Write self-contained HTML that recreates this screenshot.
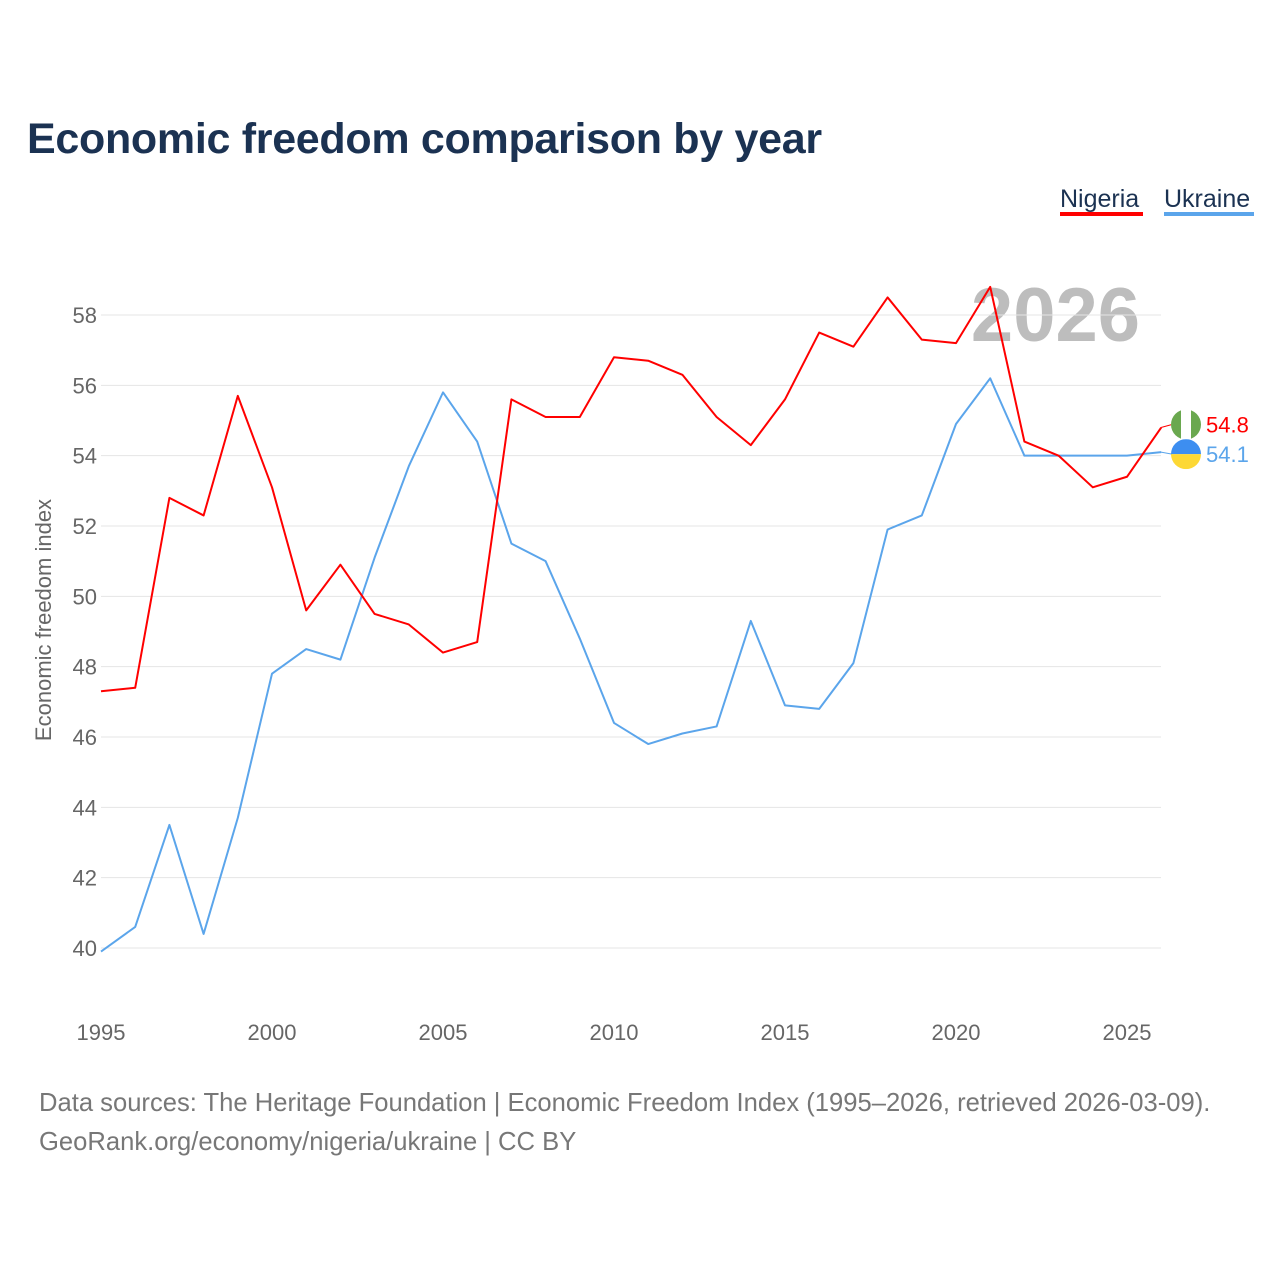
<!DOCTYPE html>
<html><head><meta charset="utf-8"><style>
body{margin:0;background:#fff;font-family:"Liberation Sans",sans-serif}
svg text{font-family:"Liberation Sans",sans-serif}
</style></head><body>
<svg id="chart" width="1280" height="1280" viewBox="0 0 1280 1280">
<text x="27" y="153" font-size="43" letter-spacing="-0.3" font-weight="bold" fill="#1b3252">Economic freedom comparison by year</text>
<g><text x="1060" y="207" font-size="25" fill="#1b3252">Nigeria</text><rect x="1060" y="212" width="83" height="4" fill="#f00"/></g>
<g><text x="1164" y="207" font-size="25" fill="#1b3252">Ukraine</text><rect x="1164" y="212" width="90" height="4" fill="#5ba5eb"/></g>
<text x="1140" y="341" text-anchor="end" font-size="76" font-weight="bold" fill="#bdbdbd">2026</text>
<g id="grid"></g><g id="series"></g>
<text transform="translate(51,620) rotate(-90)" text-anchor="middle" font-size="22" fill="#666">Economic freedom index</text>
<text x="39" y="1111" font-size="25.6" fill="#777">Data sources: The Heritage Foundation | Economic Freedom Index (1995–2026, retrieved 2026-03-09).</text>
<text x="39" y="1150" font-size="25.6" fill="#777">GeoRank.org/economy/nigeria/ukraine | CC BY</text>
</svg>
<script>
const years=[1995,1996,1997,1998,1999,2000,2001,2002,2003,2004,2005,2006,2007,2008,2009,2010,2011,2012,2013,2014,2015,2016,2017,2018,2019,2020,2021,2022,2023,2024,2025,2026];
const nigeria=[47.3,47.4,52.8,52.3,55.7,53.1,49.6,50.9,49.5,49.2,48.4,48.7,55.6,55.1,55.1,56.8,56.7,56.3,55.1,54.3,55.6,57.5,57.1,58.5,57.3,57.2,58.8,54.4,54.0,53.1,53.4,54.8];
const ukraine=[39.9,40.6,43.5,40.4,43.7,47.8,48.5,48.2,51.1,53.7,55.8,54.4,51.5,51.0,48.8,46.4,45.8,46.1,46.3,49.3,46.9,46.8,48.1,51.9,52.3,54.9,56.2,54.0,54.0,54.0,54.0,54.1];
const yTicks=[40,42,44,46,48,50,52,54,56,58];
const xTicks=[1995,2000,2005,2010,2015,2020,2025];
const NS="http://www.w3.org/2000/svg";
const X=v=>101+(v-1995)*(1127-101)/30;
const Y=v=>948-(v-40)*(948-315)/18;
function mk(t,a,p){const e=document.createElementNS(NS,t);for(const k in a)e.setAttribute(k,a[k]);p.appendChild(e);return e;}
const g=document.getElementById('grid'),s=document.getElementById('series');
yTicks.forEach(v=>{
 const l=mk('line',{x1:101,x2:1161,y1:Y(v),y2:Y(v),stroke:'#e5e5e5','stroke-width':1},g);
 
 
 const t=mk('text',{x:97,y:Y(v)+8,'text-anchor':'end','font-size':22,fill:'#666'},g);t.textContent=v;
 
 
});
xTicks.forEach(v=>{
 const t=mk('text',{x:X(v),y:1040,'text-anchor':'middle','font-size':22,fill:'#666'},g);t.textContent=v;
 
 
});
function line(d,c,n){
 const p=mk('polyline',{points:d.map((v,i)=>X(years[i])+','+Y(v)).join(' '),fill:'none',stroke:c,'stroke-width':2,'stroke-linejoin':'round'},s);
 
 
}
line(ukraine,'#5ba5eb','ukraine');line(nigeria,'#f00','nigeria');
const nl=nigeria[nigeria.length-1],ul=ukraine[ukraine.length-1];
const ny=Y(nl)-3,uy=Y(ul)+2;
mk('line',{x1:1161,x2:1172,y1:Y(ul),y2:uy,stroke:'#5ba5eb'},s);
mk('line',{x1:1161,x2:1172,y1:Y(nl),y2:ny,stroke:'#f00'},s);
const f1=mk('g',{},s);
mk('clipPath',{id:'c1'},f1);mk('circle',{cx:1186,cy:ny,r:15},f1.firstChild);
mk('rect',{x:1171,y:ny-15,width:30,height:30,fill:'#fff','clip-path':'url(#c1)'},f1);
mk('rect',{x:1171,y:ny-15,width:10,height:30,fill:'#6aa84f','clip-path':'url(#c1)'},f1);
mk('rect',{x:1191,y:ny-15,width:10,height:30,fill:'#6aa84f','clip-path':'url(#c1)'},f1);
const f2=mk('g',{},s);
mk('clipPath',{id:'c2'},f2);mk('circle',{cx:1186,cy:uy,r:15},f2.firstChild);
mk('rect',{x:1171,y:uy-15,width:30,height:15,fill:'#3d8ef0','clip-path':'url(#c2)'},f2);
mk('rect',{x:1171,y:uy,width:30,height:15,fill:'#fdd835','clip-path':'url(#c2)'},f2);
const t1=mk('text',{x:1206,y:ny+8,'font-size':22,fill:'#f00'},s);t1.textContent=nl.toFixed(1);


const t2=mk('text',{x:1206,y:uy+8,'font-size':22,fill:'#5ba5eb'},s);t2.textContent=ul.toFixed(1);


</script>
</body></html>
